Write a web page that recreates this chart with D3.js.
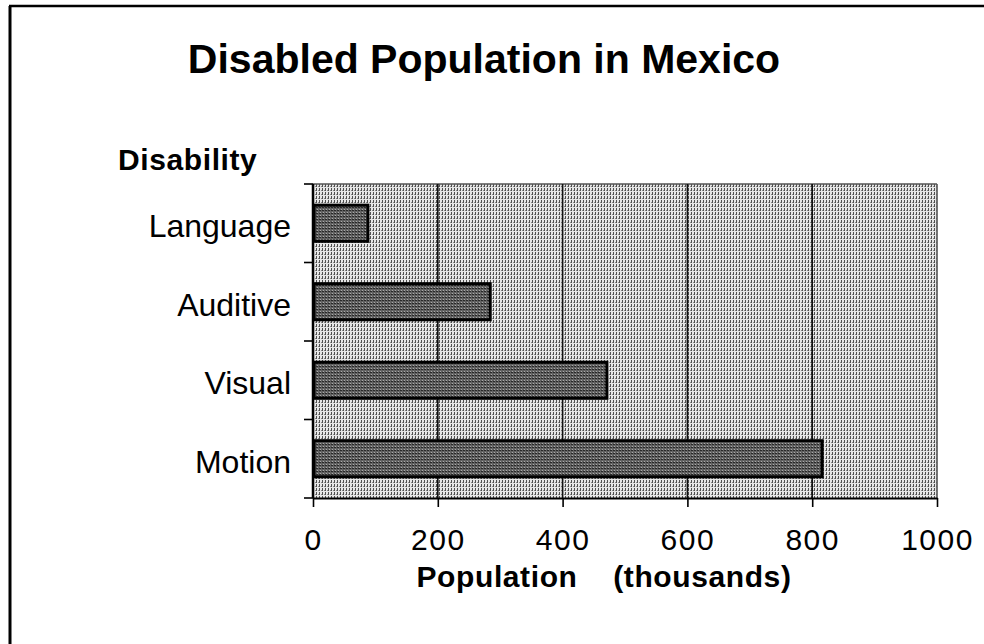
<!DOCTYPE html>
<html>
<head>
<meta charset="utf-8">
<script src="https://cdn.jsdelivr.net/npm/d3@7"></script>
<style>
  html, body { margin: 0; padding: 0; background: #fff; }
  svg text { font-family: "Liberation Sans", Arial, sans-serif; fill: #000; }
</style>
</head>
<body>
<div id="mainChart"></div>
<script>
// Chart data
const categories = ["Language", "Auditive", "Visual", "Motion"]
const values = [88, 284, 471, 816]   // thousands
const xTicks = [0, 200, 400, 600, 800, 1000]

const chartTitle = "Disabled Population in Mexico"
const yTitle = "Disability"
const xTitle = "Population    (thousands)"

let W = 984, H = 644
let margin = { top: 184, right: 47, bottom: 146, left: 313 }
let width = W - margin.left - margin.right
let height = H - margin.top - margin.bottom

let svg = d3.select("#mainChart").append("svg")
   .attr("width", W)
   .attr("height", H)

// Dither-like patterns for the plot area and the bars
let defs = svg.append("defs")

let bgPat = defs.append("pattern")
   .attr("id", "bgDither")
   .attr("patternUnits", "userSpaceOnUse")
   .attr("width", 3).attr("height", 4)
bgPat.append("rect").attr("width", 3).attr("height", 4).attr("fill", "#e6e6e6")
bgPat.append("rect").attr("x", 0).attr("y", 0).attr("width", 1).attr("height", 3).attr("fill", "#505050")
bgPat.append("rect").attr("x", 2).attr("y", 2).attr("width", 1).attr("height", 1).attr("fill", "#888")

let barPat = defs.append("pattern")
   .attr("id", "barDither")
   .attr("patternUnits", "userSpaceOnUse")
   .attr("width", 3).attr("height", 3)
barPat.append("rect").attr("width", 3).attr("height", 3).attr("fill", "#626262")
barPat.append("rect").attr("x", 1).attr("y", 1).attr("width", 1).attr("height", 1).attr("fill", "#aaa")
barPat.append("rect").attr("x", 0).attr("y", 2).attr("width", 2).attr("height", 1).attr("fill", "#2a2a2a")

// Outer frame (only top and left edges show in the scan)
svg.append("line")
   .attr("x1", 9).attr("x2", W).attr("y1", 6).attr("y2", 6)
   .attr("stroke", "#000").attr("stroke-width", 2.5)
svg.append("line")
   .attr("x1", 10).attr("x2", 10).attr("y1", 6).attr("y2", H)
   .attr("stroke", "#000").attr("stroke-width", 3)

// Title
svg.append("text")
   .attr("x", 484).attr("y", 73)
   .attr("text-anchor", "middle")
   .style("font-size", "41px")
   .style("font-weight", "bold")
   .text(chartTitle)

// Scales
let x = d3.scaleLinear()
   .domain([0, 1000])
   .range([0, width])

let y = d3.scaleBand()
   .domain(categories.slice().reverse())
   .range([height, 0])
   .paddingInner(0.54)
   .paddingOuter(0.27)

let g = svg.append("g")
   .attr("transform", "translate(" + margin.left + "," + margin.top + ")")

// Plot background
g.append("rect")
   .attr("width", width).attr("height", height)
   .attr("fill", "url(#bgDither)")

// Top edge of plot area, faint
g.append("line")
   .attr("x1", 0).attr("x2", width).attr("y1", 0).attr("y2", 0)
   .attr("stroke", "#555").attr("stroke-width", 1.5)

// Vertical grid lines
g.selectAll("line.grid").data(xTicks.filter(d => d > 0))
   .join("line")
   .attr("class", "grid")
   .attr("x1", d => x(d)).attr("x2", d => x(d))
   .attr("y1", 0).attr("y2", height)
   .attr("stroke", d => d === 1000 ? "#555" : "#111")
   .attr("stroke-width", 1.6)

// Bars
g.selectAll("rect.bar").data(categories)
   .join("rect")
   .attr("class", "bar")
   .attr("x", x(0) + 1)
   .attr("y", d => y(d))
   .attr("width", (d, i) => x(values[i]) - x(0) - 1)
   .attr("height", y.bandwidth())
   .attr("fill", "url(#barDither)")
   .attr("stroke", "#000")
   .attr("stroke-width", 3)

// X axis
let xAxis = d3.axisBottom(x)
   .tickValues(xTicks)
   .tickFormat(d => d)
   .tickSizeInner(9)
   .tickSizeOuter(0)

let horizontalAxis = g.append("g")
   .attr("transform", "translate(0," + height + ")")
   .call(xAxis)

horizontalAxis.select("path.domain").attr("stroke", "#000").attr("stroke-width", 2)
horizontalAxis.selectAll("g.tick line").attr("stroke", "#000").attr("stroke-width", 1.6)
horizontalAxis.selectAll("g.tick text")
   .attr("y", 52).attr("dy", 0)
   .style("font-size", "30px")
   .style("letter-spacing", "1.5px")
   .style("font-family", "'Liberation Sans', Arial, sans-serif")

// Y axis: ticks sit on the band boundaries, labels in the band centres
let boundaries = d3.range(categories.length + 1).map(i => height * i / categories.length)

g.append("line")
   .attr("x1", 0).attr("x2", 0).attr("y1", 0).attr("y2", height)
   .attr("stroke", "#000").attr("stroke-width", 2.5)

g.selectAll("line.ytick").data(boundaries)
   .join("line")
   .attr("class", "ytick")
   .attr("x1", -9).attr("x2", 0)
   .attr("y1", d => d).attr("y2", d => d)
   .attr("stroke", "#000").attr("stroke-width", 1.6)

g.selectAll("text.ylabel").data(categories)
   .join("text")
   .attr("class", "ylabel")
   .attr("x", -22)
   .attr("y", d => y(d) + y.bandwidth() / 2 + 14)
   .attr("text-anchor", "end")
   .style("font-size", "32px")
   .text(d => d)

// Axis titles
svg.append("text")
   .attr("x", 118).attr("y", 170)
   .style("font-size", "30px")
   .style("font-weight", "bold")
   .style("letter-spacing", "0.6px")
   .text(yTitle)

svg.append("text")
   .attr("x", 604).attr("y", 587)
   .attr("text-anchor", "middle")
   .attr("xml:space", "preserve")
   .style("white-space", "pre")
   .style("font-size", "30px")
   .style("font-weight", "bold")
   .style("letter-spacing", "0.6px")
   .text(xTitle)
</script>
</body>
</html>
